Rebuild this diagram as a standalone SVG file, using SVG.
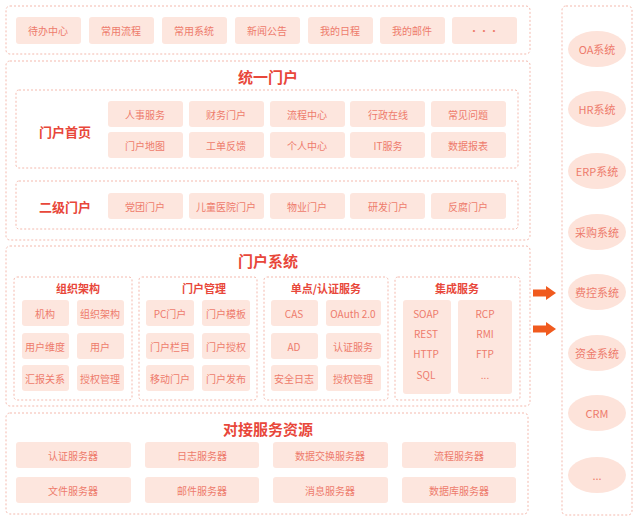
<svg xmlns="http://www.w3.org/2000/svg" width="640" height="522" viewBox="0 0 640 522">
<style>
.frame{fill:#fff;stroke:#f4b9ad;stroke-width:1;stroke-dasharray:2 2}
.it{fill:#fde6de}
text{font-family:"Noto Sans CJK SC","Liberation Sans",sans-serif;text-anchor:middle;dominant-baseline:central}
.t{fill:#ee7b6c;font-size:10px}
.e{fill:#ee7b6c;font-size:11px}
.h{fill:#e8473a;font-size:15px;font-weight:bold}
.s{fill:#e8473a;font-size:11px;font-weight:bold}
.l{fill:#e8473a;font-size:13px;font-weight:bold}
.el{fill:#fde3da}
</style>
<defs>
<marker id="ah" viewBox="0 0 10 14" refX="2" refY="7" markerWidth="10" markerHeight="14" markerUnits="userSpaceOnUse" orient="auto"><path d="M0,0L10,7L0,14z" fill="#f05a1e"/></marker>
</defs>
<rect width="640" height="522" fill="#fff"/>

<g id="quick">
<rect class="frame" x="6" y="6" width="524" height="48" rx="4"/>
<rect class="it" x="16" y="17" width="65" height="27" rx="3"/><text class="t" x="48" y="30.5">待办中心</text>
<rect class="it" x="89" y="17" width="65" height="27" rx="3"/><text class="t" x="121" y="30.5">常用流程</text>
<rect class="it" x="162" y="17" width="65" height="27" rx="3"/><text class="t" x="194" y="30.5">常用系统</text>
<rect class="it" x="235" y="17" width="65" height="27" rx="3"/><text class="t" x="267" y="30.5">新闻公告</text>
<rect class="it" x="308" y="17" width="65" height="27" rx="3"/><text class="t" x="340" y="30.5">我的日程</text>
<rect class="it" x="380" y="17" width="65" height="27" rx="3"/><text class="t" x="412" y="30.5">我的邮件</text>
<rect class="it" x="452" y="17" width="65" height="27" rx="3"/><text class="t" x="484" y="30.5">···</text>
</g>

<g id="unified">
<rect class="frame" x="6" y="61" width="524" height="179" rx="4"/>
<text class="h" x="268" y="76">统一门户</text>
<rect class="frame" x="16" y="90" width="502" height="78" rx="3"/>
<text class="l" x="65" y="131">门户首页</text>
<rect class="it" x="108" y="101" width="75" height="26" rx="3"/><text class="t" x="145" y="114">人事服务</text>
<rect class="it" x="189" y="101" width="75" height="26" rx="3"/><text class="t" x="226" y="114">财务门户</text>
<rect class="it" x="270" y="101" width="75" height="26" rx="3"/><text class="t" x="307" y="114">流程中心</text>
<rect class="it" x="350" y="101" width="75" height="26" rx="3"/><text class="t" x="388" y="114">行政在线</text>
<rect class="it" x="431" y="101" width="75" height="26" rx="3"/><text class="t" x="468" y="114">常见问题</text>
<rect class="it" x="108" y="132" width="75" height="26" rx="3"/><text class="t" x="145" y="145">门户地图</text>
<rect class="it" x="189" y="132" width="75" height="26" rx="3"/><text class="t" x="226" y="145">工单反馈</text>
<rect class="it" x="270" y="132" width="75" height="26" rx="3"/><text class="t" x="307" y="145">个人中心</text>
<rect class="it" x="350" y="132" width="75" height="26" rx="3"/><text class="t" x="388" y="145">IT服务</text>
<rect class="it" x="431" y="132" width="75" height="26" rx="3"/><text class="t" x="468" y="145">数据报表</text>
<rect class="frame" x="16" y="181" width="502" height="48" rx="3"/>
<text class="l" x="65" y="206">二级门户</text>
<rect class="it" x="108" y="193" width="75" height="26" rx="3"/><text class="t" x="145" y="206">党团门户</text>
<rect class="it" x="189" y="193" width="75" height="26" rx="3"/><text class="t" x="226" y="206">儿童医院门户</text>
<rect class="it" x="270" y="193" width="75" height="26" rx="3"/><text class="t" x="307" y="206">物业门户</text>
<rect class="it" x="350" y="193" width="75" height="26" rx="3"/><text class="t" x="388" y="206">研发门户</text>
<rect class="it" x="431" y="193" width="75" height="26" rx="3"/><text class="t" x="468" y="206">反腐门户</text>
</g>

<g id="portal-system">
<rect class="frame" x="6" y="246" width="524" height="160" rx="4"/>
<text class="h" x="268" y="260">门户系统</text>
<rect class="frame" x="14" y="277" width="118" height="123" rx="3"/>
<text class="s" x="78" y="288">组织架构</text>
<rect class="it" x="22" y="300" width="47" height="26" rx="3"/><text class="t" x="45" y="313">机构</text>
<rect class="it" x="77" y="300" width="47" height="26" rx="3"/><text class="t" x="100" y="313">组织架构</text>
<rect class="it" x="22" y="333" width="47" height="26" rx="3"/><text class="t" x="45" y="346">用户维度</text>
<rect class="it" x="77" y="333" width="47" height="26" rx="3"/><text class="t" x="100" y="346">用户</text>
<rect class="it" x="22" y="365" width="47" height="26" rx="3"/><text class="t" x="45" y="378">汇报关系</text>
<rect class="it" x="77" y="365" width="47" height="26" rx="3"/><text class="t" x="100" y="378">授权管理</text>

<rect class="frame" x="139" y="277" width="118" height="123" rx="3"/>
<text class="s" x="204" y="288">门户管理</text>
<rect class="it" x="146" y="300" width="48" height="26" rx="3"/><text class="t" x="170" y="313">PC门户</text>
<rect class="it" x="202" y="300" width="48" height="26" rx="3"/><text class="t" x="226" y="313">门户模板</text>
<rect class="it" x="146" y="333" width="48" height="26" rx="3"/><text class="t" x="170" y="346">门户栏目</text>
<rect class="it" x="202" y="333" width="48" height="26" rx="3"/><text class="t" x="226" y="346">门户授权</text>
<rect class="it" x="146" y="365" width="48" height="26" rx="3"/><text class="t" x="170" y="378">移动门户</text>
<rect class="it" x="202" y="365" width="48" height="26" rx="3"/><text class="t" x="226" y="378">门户发布</text>

<rect class="frame" x="264" y="277" width="124" height="123" rx="3"/>
<text class="s" x="326" y="288">单点/认证服务</text>
<rect class="it" x="271" y="300" width="47" height="26" rx="3"/><text class="t" x="294" y="313">CAS</text>
<rect class="it" x="326" y="300" width="55" height="26" rx="3"/><text class="t" x="353" y="313">OAuth 2.0</text>
<rect class="it" x="271" y="333" width="47" height="26" rx="3"/><text class="t" x="294" y="346">AD</text>
<rect class="it" x="326" y="333" width="55" height="26" rx="3"/><text class="t" x="353" y="346">认证服务</text>
<rect class="it" x="271" y="365" width="47" height="26" rx="3"/><text class="t" x="294" y="378">安全日志</text>
<rect class="it" x="326" y="365" width="55" height="26" rx="3"/><text class="t" x="353" y="378">授权管理</text>

<rect class="frame" x="395" y="277" width="125" height="123" rx="3"/>
<text class="s" x="457" y="288">集成服务</text>
<rect class="it" x="403" y="300" width="48" height="94" rx="3"/>
<rect class="it" x="458" y="300" width="54" height="94" rx="3"/>
<text class="t" x="426" y="313">SOAP</text><text class="t" x="426" y="333">REST</text><text class="t" x="426" y="353">HTTP</text><text class="t" x="426" y="374">SQL</text>
<text class="t" x="485" y="313">RCP</text><text class="t" x="485" y="333">RMI</text><text class="t" x="485" y="353">FTP</text><text class="t" x="485" y="374">...</text>
</g>

<g id="resources">
<rect class="frame" x="6" y="413" width="522" height="101" rx="4"/>
<text class="h" x="268" y="428">对接服务资源</text>
<rect class="it" x="16" y="442" width="115" height="26" rx="3"/><text class="t" x="73" y="455">认证服务器</text>
<rect class="it" x="145" y="442" width="114" height="26" rx="3"/><text class="t" x="202" y="455">日志服务器</text>
<rect class="it" x="273" y="442" width="115" height="26" rx="3"/><text class="t" x="330" y="455">数据交换服务器</text>
<rect class="it" x="402" y="442" width="114" height="26" rx="3"/><text class="t" x="459" y="455">流程服务器</text>
<rect class="it" x="16" y="477" width="115" height="26" rx="3"/><text class="t" x="73" y="490">文件服务器</text>
<rect class="it" x="145" y="477" width="114" height="26" rx="3"/><text class="t" x="202" y="490">邮件服务器</text>
<rect class="it" x="273" y="477" width="115" height="26" rx="3"/><text class="t" x="330" y="490">消息服务器</text>
<rect class="it" x="402" y="477" width="114" height="26" rx="3"/><text class="t" x="459" y="490">数据库服务器</text>
</g>

<g id="systems">
<rect class="frame" x="562" y="6" width="70" height="509" rx="4"/>
<ellipse class="el" cx="597" cy="49" rx="29" ry="18"/><text class="e" x="597" y="49">OA系统</text>
<ellipse class="el" cx="597" cy="109" rx="29" ry="18"/><text class="e" x="597" y="109">HR系统</text>
<ellipse class="el" cx="597" cy="171" rx="29" ry="18"/><text class="e" x="597" y="171">ERP系统</text>
<ellipse class="el" cx="597" cy="232" rx="29" ry="18"/><text class="e" x="597" y="232">采购系统</text>
<ellipse class="el" cx="597" cy="292" rx="29" ry="18"/><text class="e" x="597" y="292">费控系统</text>
<ellipse class="el" cx="597" cy="353" rx="29" ry="18"/><text class="e" x="597" y="353">资金系统</text>
<ellipse class="el" cx="597" cy="413" rx="29" ry="18"/><text class="e" x="597" y="413">CRM</text>
<ellipse class="el" cx="597" cy="475" rx="29" ry="18"/><text class="e" x="597" y="475">...</text>
</g>

<g id="connectors" stroke="#f05a1e" stroke-width="7">
<line x1="533" y1="293" x2="548" y2="293" marker-end="url(#ah)"/>
<line x1="533" y1="329" x2="548" y2="329" marker-end="url(#ah)"/>
</g>
</svg>
